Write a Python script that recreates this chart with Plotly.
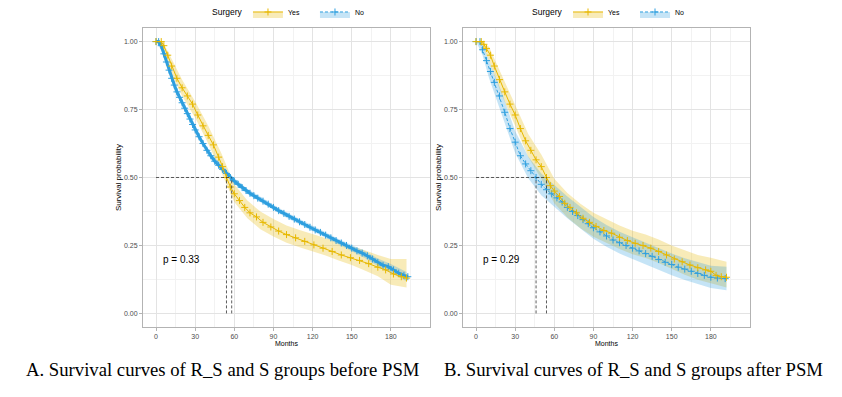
import plotly.graph_objects as go

# colours used by survminer's default palette
YES_COL = '#E7B800'
NO_COL = '#2E9FDF'
YES_FILL = 'rgba(231,184,0,0.28)'
NO_FILL = 'rgba(46,159,223,0.28)'

# ---- Panel A: before PSM ----
a_yes_t = [0, 4, 6, 9, 12, 16, 20, 24, 28, 32, 36, 40, 44, 48, 51, 54, 57, 60, 64, 68, 72, 77, 82, 88, 94,
           100, 107, 114, 121, 128, 135, 142, 149, 156, 163, 170, 176, 182, 188, 192]
a_yes_s = [1.0, 1.0, 0.985, 0.95, 0.91, 0.865, 0.83, 0.8, 0.77, 0.73, 0.69, 0.655, 0.62, 0.575, 0.54, 0.5, 0.465,
           0.44, 0.415, 0.39, 0.37, 0.355, 0.335, 0.318, 0.303, 0.29, 0.278, 0.265, 0.252, 0.24, 0.228, 0.215,
           0.205, 0.195, 0.183, 0.17, 0.16, 0.145, 0.135, 0.13]

a_no_t = [0, 2, 4, 6, 8, 10, 12, 14, 16, 18, 20, 22, 24, 26, 28, 30, 33, 36, 39, 42, 45, 48, 51, 54, 57, 60, 63,
          66, 69, 72, 75, 78, 82, 86, 90, 94, 98, 102, 106, 110, 114, 118, 122, 126, 130, 134, 138, 142, 146, 150,
          154, 158, 162, 166, 170, 174, 178, 182, 186, 190, 193]
a_no_s = [1.0, 1.0, 0.985, 0.955, 0.925, 0.895, 0.865, 0.84, 0.815, 0.795, 0.775, 0.755, 0.735, 0.715, 0.695,
          0.675, 0.65, 0.625, 0.6, 0.58, 0.56, 0.545, 0.53, 0.515, 0.5, 0.487, 0.475, 0.463, 0.452, 0.442, 0.433,
          0.424, 0.413, 0.402, 0.39, 0.378, 0.368, 0.357, 0.347, 0.337, 0.327, 0.317, 0.307, 0.298, 0.288, 0.278,
          0.268, 0.259, 0.25, 0.24, 0.23, 0.222, 0.212, 0.2, 0.188, 0.177, 0.172, 0.16, 0.148, 0.14, 0.135]

a_ci_t = [0, 5, 10, 20, 30, 40, 50, 60, 70, 80, 90, 100, 110, 120, 130, 140, 150, 160, 170, 180, 192]
a_yes_hi = [1.0, 1.0, 0.955, 0.86, 0.78, 0.69, 0.59, 0.475, 0.415, 0.375, 0.347, 0.323, 0.307, 0.292, 0.278,
            0.262, 0.248, 0.232, 0.215, 0.2, 0.2]
a_yes_lo = [1.0, 0.975, 0.9, 0.8, 0.72, 0.625, 0.52, 0.41, 0.35, 0.31, 0.283, 0.26, 0.243, 0.228, 0.213, 0.195,
            0.178, 0.158, 0.137, 0.105, 0.095]
a_no_hi = [1.0, 0.98, 0.905, 0.785, 0.685, 0.6, 0.545, 0.497, 0.459, 0.428, 0.4, 0.372, 0.347, 0.322, 0.298,
           0.274, 0.252, 0.23, 0.202, 0.182, 0.152]
a_no_lo = [1.0, 0.96, 0.885, 0.765, 0.665, 0.58, 0.525, 0.477, 0.439, 0.408, 0.38, 0.352, 0.327, 0.302, 0.278,
           0.252, 0.228, 0.204, 0.174, 0.15, 0.118]
a_medians = [54, 58]
a_pval = 'p = 0.33'

# ---- Panel B: after PSM ----
b_yes_t = [0, 4, 6, 8, 11, 14, 18, 22, 26, 30, 34, 38, 42, 46, 50, 54, 57, 60, 64, 68, 72, 77, 82, 87, 92, 98,
           104, 110, 116, 122, 128, 134, 140, 146, 152, 158, 164, 170, 176, 180, 184, 188, 192]
b_yes_s = [1.0, 1.0, 0.99, 0.975, 0.95, 0.91, 0.86, 0.815, 0.77, 0.73, 0.68, 0.635, 0.6, 0.565, 0.54, 0.5, 0.47,
           0.45, 0.43, 0.405, 0.39, 0.37, 0.35, 0.335, 0.32, 0.305, 0.295, 0.28, 0.268, 0.258, 0.25, 0.24, 0.228,
           0.215, 0.2, 0.19, 0.178, 0.168, 0.16, 0.155, 0.14, 0.135, 0.133]

b_no_t = [0, 3, 5, 8, 11, 14, 18, 22, 26, 30, 34, 38, 42, 46, 50, 54, 58, 62, 66, 70, 74, 78, 82, 86, 90, 95, 100,
          105, 110, 115, 120, 125, 130, 135, 140, 145, 150, 155, 160, 165, 170, 175, 180, 185, 191]
b_no_s = [1.0, 1.0, 0.97, 0.93, 0.89, 0.85, 0.8, 0.74, 0.68, 0.63, 0.58, 0.55, 0.525, 0.5, 0.475, 0.455, 0.44,
          0.425, 0.41, 0.39, 0.375, 0.36, 0.345, 0.33, 0.315, 0.3, 0.285, 0.27, 0.26, 0.25, 0.24, 0.23, 0.22, 0.21,
          0.198, 0.188, 0.18, 0.17, 0.163, 0.155, 0.147, 0.14, 0.133, 0.13, 0.128]

b_ci_t = [0, 5, 10, 20, 30, 40, 50, 60, 70, 80, 90, 100, 110, 120, 130, 140, 150, 160, 170, 180, 192]
b_yes_hi = [1.0, 1.0, 0.98, 0.875, 0.77, 0.66, 0.585, 0.495, 0.443, 0.403, 0.37, 0.345, 0.323, 0.304, 0.29,
            0.272, 0.25, 0.232, 0.215, 0.205, 0.19]
b_yes_lo = [1.0, 0.985, 0.93, 0.8, 0.69, 0.575, 0.495, 0.405, 0.353, 0.313, 0.282, 0.259, 0.237, 0.218, 0.204,
            0.185, 0.162, 0.142, 0.124, 0.11, 0.095]
b_no_hi = [1.0, 0.99, 0.93, 0.81, 0.67, 0.577, 0.515, 0.472, 0.43, 0.392, 0.355, 0.325, 0.3, 0.28, 0.26, 0.238,
           0.22, 0.203, 0.188, 0.175, 0.172]
b_no_lo = [1.0, 0.95, 0.865, 0.73, 0.59, 0.497, 0.435, 0.392, 0.35, 0.312, 0.275, 0.245, 0.22, 0.2, 0.18, 0.158,
           0.14, 0.123, 0.107, 0.093, 0.085]
b_medians = [54, 46]
b_pval = 'p = 0.29'

x_ticks = [0, 30, 60, 90, 120, 150, 180]
y_ticks = [0.0, 0.25, 0.5, 0.75, 1.0]
captions = ['A. Survival curves of R_S and S groups before PSM',
            'B. Survival curves of R_S and S groups after PSM']

fig = go.Figure()


def add_panel(xa, ya, leg, yes_t, yes_s, no_t, no_s, ci_t, yes_hi, yes_lo, no_hi, no_lo, medians, pval,
              no_width):
    # confidence ribbons
    for hi, lo, fc in [(yes_hi, yes_lo, YES_FILL), (no_hi, no_lo, NO_FILL)]:
        fig.add_trace(go.Scatter(x=ci_t, y=hi, mode='lines', line=dict(width=0), xaxis=xa, yaxis=ya,
                                 legend=leg, showlegend=False, hoverinfo='skip'))
        fig.add_trace(go.Scatter(x=ci_t, y=lo, mode='lines', line=dict(width=0), fill='tonexty',
                                 fillcolor=fc, xaxis=xa, yaxis=ya, legend=leg, showlegend=False,
                                 hoverinfo='skip'))
    # survival curves with censor marks
    fig.add_trace(go.Scatter(x=no_t, y=no_s, mode='lines+markers', xaxis=xa, yaxis=ya, showlegend=False,
                             legend=leg,
                             line=dict(color=NO_COL, width=no_width, dash='solid' if no_width > 2 else '3px,2px'),
                             marker=dict(symbol='cross-thin', size=5, line=dict(color=NO_COL, width=1))))
    fig.add_trace(go.Scatter(x=yes_t, y=yes_s, mode='lines+markers', xaxis=xa, yaxis=ya, showlegend=False,
                             legend=leg, line=dict(color=YES_COL, width=1),
                             marker=dict(symbol='cross-thin', size=5, line=dict(color=YES_COL, width=1))))
    # median survival lines
    fig.add_trace(go.Scatter(x=[0, max(medians)], y=[0.5, 0.5], mode='lines', xaxis=xa, yaxis=ya,
                             legend=leg, showlegend=False,
                             line=dict(color='#333333', width=0.8, dash='3px,2px')))
    for m in medians:
        fig.add_trace(go.Scatter(x=[m, m], y=[0, 0.5], mode='lines', xaxis=xa, yaxis=ya, legend=leg,
                                 showlegend=False, line=dict(color='#333333', width=0.8, dash='3px,2px')))
    # legend entries
    for name, col, fc in [('Yes', YES_COL, YES_FILL), ('No', NO_COL, NO_FILL)]:
        fig.add_trace(go.Scatter(x=[None], y=[None], mode='lines+markers', name=name, legend=leg,
                                 xaxis=xa, yaxis=ya, fill='toself', fillcolor=fc,
                                 line=dict(color=col, width=1, dash='solid' if name == 'Yes' else '3px,2px'),
                                 marker=dict(symbol='cross-thin', size=5, line=dict(color=col, width=1))))
    fig.add_annotation(x=4, y=0.2, xref=xa, yref=ya, text=pval, showarrow=False, xanchor='left',
                       font=dict(family='Liberation Sans, Arial', size=10, color='black'))


add_panel('x', 'y', 'legend', a_yes_t, a_yes_s, a_no_t, a_no_s, a_ci_t, a_yes_hi, a_yes_lo, a_no_hi, a_no_lo,
          a_medians, a_pval, 3)
add_panel('x2', 'y2', 'legend2', b_yes_t, b_yes_s, b_no_t, b_no_s, b_ci_t, b_yes_hi, b_yes_lo, b_no_hi, b_no_lo,
          b_medians, b_pval, 1)

tick_font = dict(family='Liberation Sans, Arial', size=7, color='#4D4D4D')
xax = dict(range=[-10, 210], tickvals=x_ticks, ticks='outside', ticklen=3, tickcolor='#B3B3B3',
           showline=True, mirror=True, linecolor='#B3B3B3', linewidth=1, gridcolor='#E3E3E3', gridwidth=0.8,
           zeroline=False, tickfont=tick_font,
           minor=dict(tick0=15, dtick=30, showgrid=True, gridcolor='#F2F2F2', gridwidth=0.5),
           title=dict(text='Months', font=dict(family='Liberation Sans, Arial', size=7, color='black'), standoff=1))
yax = dict(range=[-0.05, 1.05], tickvals=y_ticks, tickformat='.2f', ticks='outside', ticklen=3,
           tickcolor='#B3B3B3', showline=True, mirror=True, linecolor='#B3B3B3', linewidth=1,
           gridcolor='#E3E3E3', gridwidth=0.8, zeroline=False, tickfont=tick_font,
           minor=dict(tick0=0.125, dtick=0.25, showgrid=True, gridcolor='#F2F2F2', gridwidth=0.5),
           domain=[0.1965, 0.9496],
           title=dict(text='Survival probability', font=dict(family='Liberation Sans, Arial', size=8,
                                                            color='black'), standoff=1))

leg_common = dict(orientation='h', xanchor='left', y=0.99, yanchor='middle', bgcolor='rgba(0,0,0,0)',
                  traceorder='normal', tracegroupgap=0, entrywidth=22,
                  font=dict(family='Liberation Sans, Arial', size=7, color='black'), itemwidth=30)

# the page puts the figure 8 px in from the top-left corner, so domains are shifted by that
fig.update_layout(
    width=842, height=397, autosize=False,
    margin=dict(l=0, r=0, t=0, b=0, autoexpand=False),
    paper_bgcolor='white', plot_bgcolor='white',
    xaxis=dict(xax, domain=[0.1603, 0.5012], anchor='y'),
    yaxis=dict(yax, anchor='x'),
    xaxis2=dict(xax, domain=[0.5404, 0.8812], anchor='y2'),
    yaxis2=dict(yax, anchor='x2'),
    legend=dict(leg_common, x=0.2850),
    legend2=dict(leg_common, x=0.6651),
)

# legend titles, placed just left of each legend
for lx in [0.2815, 0.6615]:
    fig.add_annotation(x=lx, y=0.9887, xref='paper', yref='paper', text='Surgery', showarrow=False,
                       xanchor='right', yanchor='middle',
                       font=dict(family='Liberation Sans, Arial', size=8.5, color='black'))

for cx, txt in zip([0.2553, 0.7423], captions):
    fig.add_annotation(x=cx, y=0.0882, xref='paper', yref='paper', text=txt, showarrow=False,
                       xanchor='center', yanchor='middle',
                       font=dict(family='Liberation Serif, Times New Roman', size=18.7, color='black'))

fig.write_html("out.html")
